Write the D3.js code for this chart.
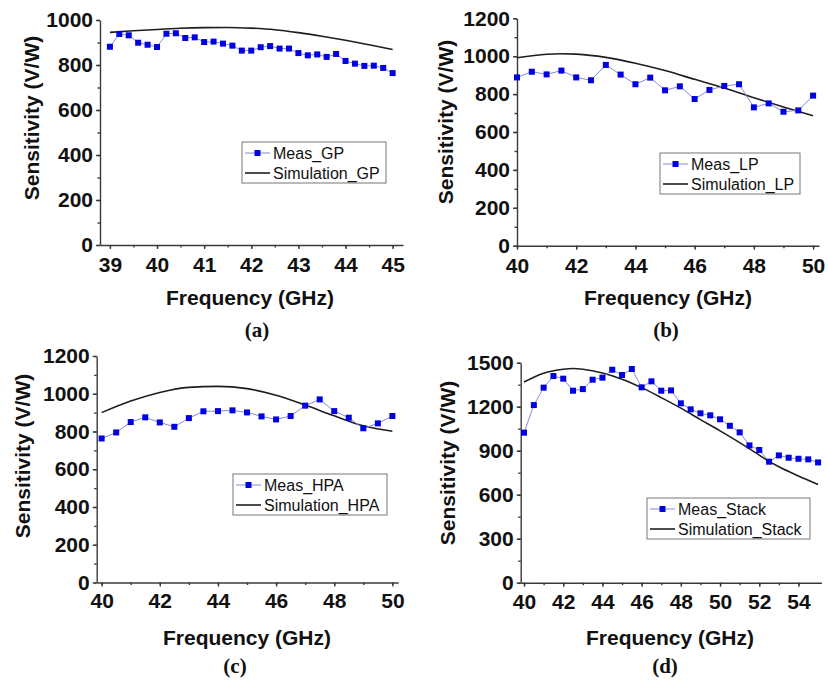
<!DOCTYPE html>
<html>
<head>
<meta charset="utf-8">
<script src="https://cdn.jsdelivr.net/npm/d3@7"></script>
<style>
  body { margin: 0; background: #fff; }
  svg { display: block; }
  .tick text { font-family: "Liberation Sans", Arial, sans-serif; font-weight: bold; font-size: 21px; fill: #111; }
</style>
</head>
<body>
<div id="chart"></div>
<script>
// ---- data ----
const freqGP = [39.0, 39.2, 39.4, 39.6, 39.8, 40.0, 40.2, 40.4, 40.6, 40.8, 41.0, 41.2, 41.4, 41.6, 41.8, 42.0,
                42.2, 42.4, 42.6, 42.8, 43.0, 43.2, 43.4, 43.6, 43.8, 44.0, 44.2, 44.4, 44.6, 44.8, 45.0];
const measGP = [881, 938, 932, 899, 890, 880, 939, 941, 920, 923, 902, 904, 895, 886, 864, 864,
                879, 884, 873, 873, 853, 843, 847, 836, 849, 818, 806, 796, 797, 787, 764];
const simFreqGP = [39, 39.5, 40, 40.5, 41, 41.5, 42, 42.5, 43, 43.5, 44, 44.5, 45];
const simGP = [945, 952, 958, 963, 966, 967, 964, 957, 944, 928, 910, 890, 869];

const freqLP = [40, 40.5, 41, 41.5, 42, 42.5, 43, 43.5, 44, 44.5, 45, 45.5, 46, 46.5, 47, 47.5, 48, 48.5, 49, 49.5, 50];
const measLP = [888, 918, 904, 924, 888, 873, 954, 903, 852, 887, 820, 841, 774, 822, 843, 852, 730, 751, 707, 714, 792];
const simFreqLP = [40, 41, 41.5, 42, 43, 44, 45, 46, 47, 48, 49, 50];
const simLP = [992, 1010, 1013, 1011, 994, 963, 924, 878, 832, 781, 732, 686];

const freqHPA = [40, 40.5, 41, 41.5, 42, 42.5, 43, 43.5, 44, 44.5, 45, 45.5, 46, 46.5, 47, 47.5, 48, 48.5, 49, 49.5, 50];
const measHPA = [763, 795, 850, 875, 848, 825, 871, 907, 908, 912, 901, 880, 864, 882, 937, 970, 908, 873, 817, 843, 882];
const simFreqHPA = [40, 41, 42, 43, 44, 45, 46, 47, 48, 49, 50];
const simHPA = [900, 961, 1007, 1034, 1039, 1027, 992, 940, 883, 830, 801];

const freqStack = [40, 40.5, 41, 41.5, 42, 42.5, 43, 43.5, 44, 44.5, 45, 45.5, 46, 46.5, 47, 47.5,
                   48, 48.5, 49, 49.5, 50, 50.5, 51, 51.5, 52, 52.5, 53, 53.5, 54, 54.5, 55];
const measStack = [1023, 1211, 1330, 1409, 1391, 1309, 1320, 1384, 1398, 1452, 1416, 1457, 1332, 1373, 1309, 1311,
                   1223, 1182, 1155, 1141, 1114, 1070, 1025, 936, 905, 825, 868, 852, 845, 841, 820];
const simFreqStack = [40, 41, 42, 42.5, 43, 44, 45, 46, 47, 48, 49, 50, 51, 52, 52.5, 53, 54, 55];
const simStack = [1368, 1428, 1455, 1460, 1455, 1430, 1388, 1330, 1262, 1190, 1112, 1035, 955, 870, 827, 790, 728, 670];

const xTicksA = [39, 40, 41, 42, 43, 44, 45];
const xTicksBC = [40, 42, 44, 46, 48, 50];
const xTicksD = [40, 42, 44, 46, 48, 50, 52, 54];
const yTicks1000 = [0, 200, 400, 600, 800, 1000];
const yTicks1200 = [0, 200, 400, 600, 800, 1000, 1200];
const yTicks1500 = [0, 300, 600, 900, 1200, 1500];

// ---- layout ----
const panels = [
  { tag: "(a)", meas: "Meas_GP", sim: "Simulation_GP", fx: freqGP, my: measGP, sx: simFreqGP, sy: simGP,
    xd: [38.79, 45.22], xr: [100, 403], yd: [0, 1000], yr: [245, 20],
    xt: xTicksA, xminor: 0.5, yt: yTicks1000, yminor: 100,
    yLab: [32, 118], xLab: [250, 305], cap: [257, 337], leg: [242, 142, 144, 41], xPad: 8 },
  { tag: "(b)", meas: "Meas_LP", sim: "Simulation_LP", fx: freqLP, my: measLP, sx: simFreqLP, sy: simLP,
    xd: [40, 50.2], xr: [517, 819], yd: [0, 1200], yr: [245.7, 18.3],
    xt: xTicksBC, xminor: 1, yt: yTicks1200, yminor: 100,
    yLab: [446, 122], xLab: [668, 305], cap: [666, 337], leg: [660, 153, 140, 41], xPad: 8 },
  { tag: "(c)", meas: "Meas_HPA", sim: "Simulation_HPA", fx: freqHPA, my: measHPA, sx: simFreqHPA, sy: simHPA,
    xd: [39.83, 50.2], xr: [96.7, 398.2], yd: [0, 1200], yr: [582.5, 356],
    xt: xTicksBC, xminor: 1, yt: yTicks1200, yminor: 100,
    yLab: [23, 456], xLab: [247, 645], cap: [235, 673], leg: [233, 474, 154, 41], xPad: 7 },
  { tag: "(d)", meas: "Meas_Stack", sim: "Simulation_Stack", fx: freqStack, my: measStack, sx: simFreqStack, sy: simStack,
    xd: [39.83, 55.17], xr: [520.7, 821.4], yd: [0, 1500], yr: [582.7, 362.7],
    xt: xTicksD, xminor: 1, yt: yTicks1500, yminor: 150,
    yLab: [448, 463], xLab: [670, 645], cap: [665, 673], leg: [647, 498, 163, 41], xPad: 7 }
];

const svg = d3.select("#chart").append("svg").attr("width", 828).attr("height", 683);
const axisColor = "#3a3a3a";

function range(a, b, step) {
  const out = [];
  for (let v = a; v <= b + 1e-9; v += step) out.push(+v.toFixed(3));
  return out;
}

function drawPanel(p) {
  const g = svg.append("g");
  const x = d3.scaleLinear().domain(p.xd).range(p.xr);
  const y = d3.scaleLinear().domain(p.yd).range(p.yr);

  // minor ticks
  g.append("g").attr("transform", `translate(0,${p.yr[0]})`)
    .call(d3.axisBottom(x).tickValues(range(p.xt[0], p.xt[p.xt.length - 1], p.xminor)).tickSize(2.5).tickFormat(""))
    .call(a => a.select(".domain").remove());
  g.append("g").attr("transform", `translate(${p.xr[0]},0)`)
    .call(d3.axisLeft(y).tickValues(range(p.yd[0], p.yd[1], p.yminor)).tickSize(2.5).tickFormat(""))
    .call(a => a.select(".domain").remove());

  const xa = g.append("g").attr("transform", `translate(0,${p.yr[0]})`)
    .call(d3.axisBottom(x).tickValues(p.xt).tickSize(4).tickSizeOuter(0).tickPadding(p.xPad).tickFormat(d3.format("d")));
  const ya = g.append("g").attr("transform", `translate(${p.xr[0]},0)`)
    .call(d3.axisLeft(y).tickValues(p.yt).tickSize(4).tickSizeOuter(0).tickPadding(3).tickFormat(d3.format("d")));
  g.selectAll(".domain, .tick line").attr("stroke", axisColor).attr("stroke-width", 1.4);

  // simulation
  const simPts = p.sx.map((f, i) => [f, p.sy[i]]);
  g.append("path").datum(simPts)
    .attr("fill", "none").attr("stroke", "#1e1e1e").attr("stroke-width", 1.6)
    .attr("d", d3.line().x(d => x(d[0])).y(d => y(d[1])).curve(d3.curveMonotoneX));

  // measurement
  const measPts = p.fx.map((f, i) => [f, p.my[i]]);
  g.append("path").datum(measPts)
    .attr("fill", "none").attr("stroke", "#8a8ad8").attr("stroke-width", 1)
    .attr("d", d3.line().x(d => x(d[0])).y(d => y(d[1])));
  g.selectAll("rect.m").data(measPts).join("rect").attr("class", "m")
    .attr("x", d => x(d[0]) - 3).attr("y", d => y(d[1]) - 3)
    .attr("width", 6).attr("height", 6).attr("fill", "#0000e0");

  // axis titles
  g.append("text")
    .attr("transform", `translate(${p.yLab[0]},${p.yLab[1]}) rotate(-90)`)
    .attr("text-anchor", "middle").attr("dy", "0.35em")
    .style("font-family", '"Liberation Sans", Arial, sans-serif').style("font-weight", "bold").style("font-size", "21px")
    .attr("fill", "#111").text("Sensitivity (V/W)");
  g.append("text").attr("x", p.xLab[0]).attr("y", p.xLab[1]).attr("text-anchor", "middle")
    .style("font-family", '"Liberation Sans", Arial, sans-serif').style("font-weight", "bold").style("font-size", "21px")
    .attr("fill", "#111").text("Frequency (GHz)");
  g.append("text").attr("x", p.cap[0]).attr("y", p.cap[1]).attr("text-anchor", "middle")
    .style("font-family", '"Liberation Serif", "Times New Roman", serif').style("font-weight", "bold").style("font-size", "21px")
    .attr("fill", "#111").text(p.tag);

  // legend
  const [lx, ly, lw, lh] = p.leg;
  const lg = g.append("g").attr("transform", `translate(${lx},${ly})`);
  lg.append("rect").attr("width", lw).attr("height", lh).attr("fill", "#fff").attr("stroke", "#777").attr("stroke-width", 1);
  const r1 = 11, r2 = 31;
  lg.append("line").attr("x1", 3).attr("x2", 28).attr("y1", r1).attr("y2", r1).attr("stroke", "#8a8ad8").attr("stroke-width", 1);
  lg.append("rect").attr("x", 12.5).attr("y", r1 - 3).attr("width", 6).attr("height", 6).attr("fill", "#0000e0");
  lg.append("line").attr("x1", 3).attr("x2", 28).attr("y1", r2).attr("y2", r2).attr("stroke", "#1e1e1e").attr("stroke-width", 1.6);
  [[p.meas, r1], [p.sim, r2]].forEach(([t, ry]) => {
    lg.append("text").attr("x", 31).attr("y", ry).attr("dy", "0.35em")
      .style("font-family", '"Liberation Sans", Arial, sans-serif').style("font-size", "16px")
      .attr("fill", "#111").text(t);
  });
}

panels.forEach(drawPanel);
</script>
</body>
</html>
